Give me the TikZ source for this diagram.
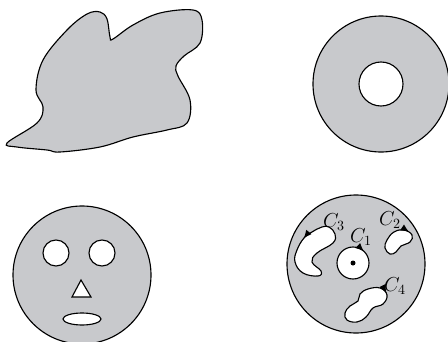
\documentclass[tikz,border=0pt]{standalone}
\usepackage{amsmath}
\usepackage{tikz}
\usepackage{xcolor}
\usetikzlibrary{arrows.meta,decorations.markings}
\definecolor{regiongray}{RGB}{200,201,204}

\tikzset{
  region/.style={fill=regiongray, draw=black, line width=0.8pt},
  hole/.style={fill=white, draw=black, line width=0.8pt},
  arrowat/.style={postaction={decorate}, decoration={markings, mark=at position #1 with {\arrow{Latex[length=6pt,width=5pt]}}}},
  curvelabel/.style={inner sep=0pt, font=\Large}
}

\begin{document}
\begin{tikzpicture}[x=0.025cm, y=-0.025cm]
    \useasboundingbox (0,0) rectangle (448,342);

    % arbitrary region
    \draw[region] plot[smooth cycle, tension=0.6] coordinates {
        (7,143) (37,123) (43,107) (36,90) (43,60) (67,30) (87,14) (100,12)
        (107,19) (110,37) (113,39) (133,25) (160,13) (193,10) (202,20)
        (200,43) (184,56) (176,66) (178,76) (190,100) (187,123) (167,130)
        (133,137) (100,147) (60,152) (47,150) (17,147)};

    % annulus
    \draw[region] (381,84) circle[radius=68];
    \draw[hole] (381,84) circle[radius=22];

    % face
    \draw[region] (82,275) circle[radius=69];
    \draw[hole] (56,253) circle[radius=13];
    \draw[hole] (102,253) circle[radius=13];
    \draw[hole] (81,280) -- (91,297) -- (72,297) -- cycle;
    \draw[hole] (82,319) ellipse[x radius=19, y radius=6];

    % multiply connected region
    \draw[region] (356,264) circle[radius=69];
    \draw[hole, arrowat=0.87] (353,263) circle[radius=16];
    \fill (353,263) circle[radius=2.5];
    \draw[hole, arrowat=0.07] plot[smooth cycle, tension=0.7] coordinates {
        (322,227) (312,232) (304,238) (297,250) (295,262) (303,273) (318,276)
        (321,271) (312,262) (317,253) (333,243) (335,234) (329,227)};
    \draw[hole, arrowat=0.07] plot[smooth cycle, tension=0.7] coordinates {
        (394,232) (404,230) (412,235) (410,242) (401,246) (396,252)
        (390,254) (385,248) (387,240)};
    \draw[hole, arrowat=0.07] plot[smooth cycle, tension=0.7] coordinates {
        (368,289) (380,288) (387,295) (383,304) (373,308) (366,317)
        (357,322) (347,320) (345,313) (350,306) (358,301) (360,294)};

    \node[curvelabel] (c1) at (361,237) {$C_1$};
    \node[curvelabel] (c2) at (390,220) {$C_2$};
    \node[curvelabel] (c3) at (334,222) {$C_3$};
    \node[curvelabel] (c4) at (395,286) {$C_4$};
\end{tikzpicture}
\end{document}
